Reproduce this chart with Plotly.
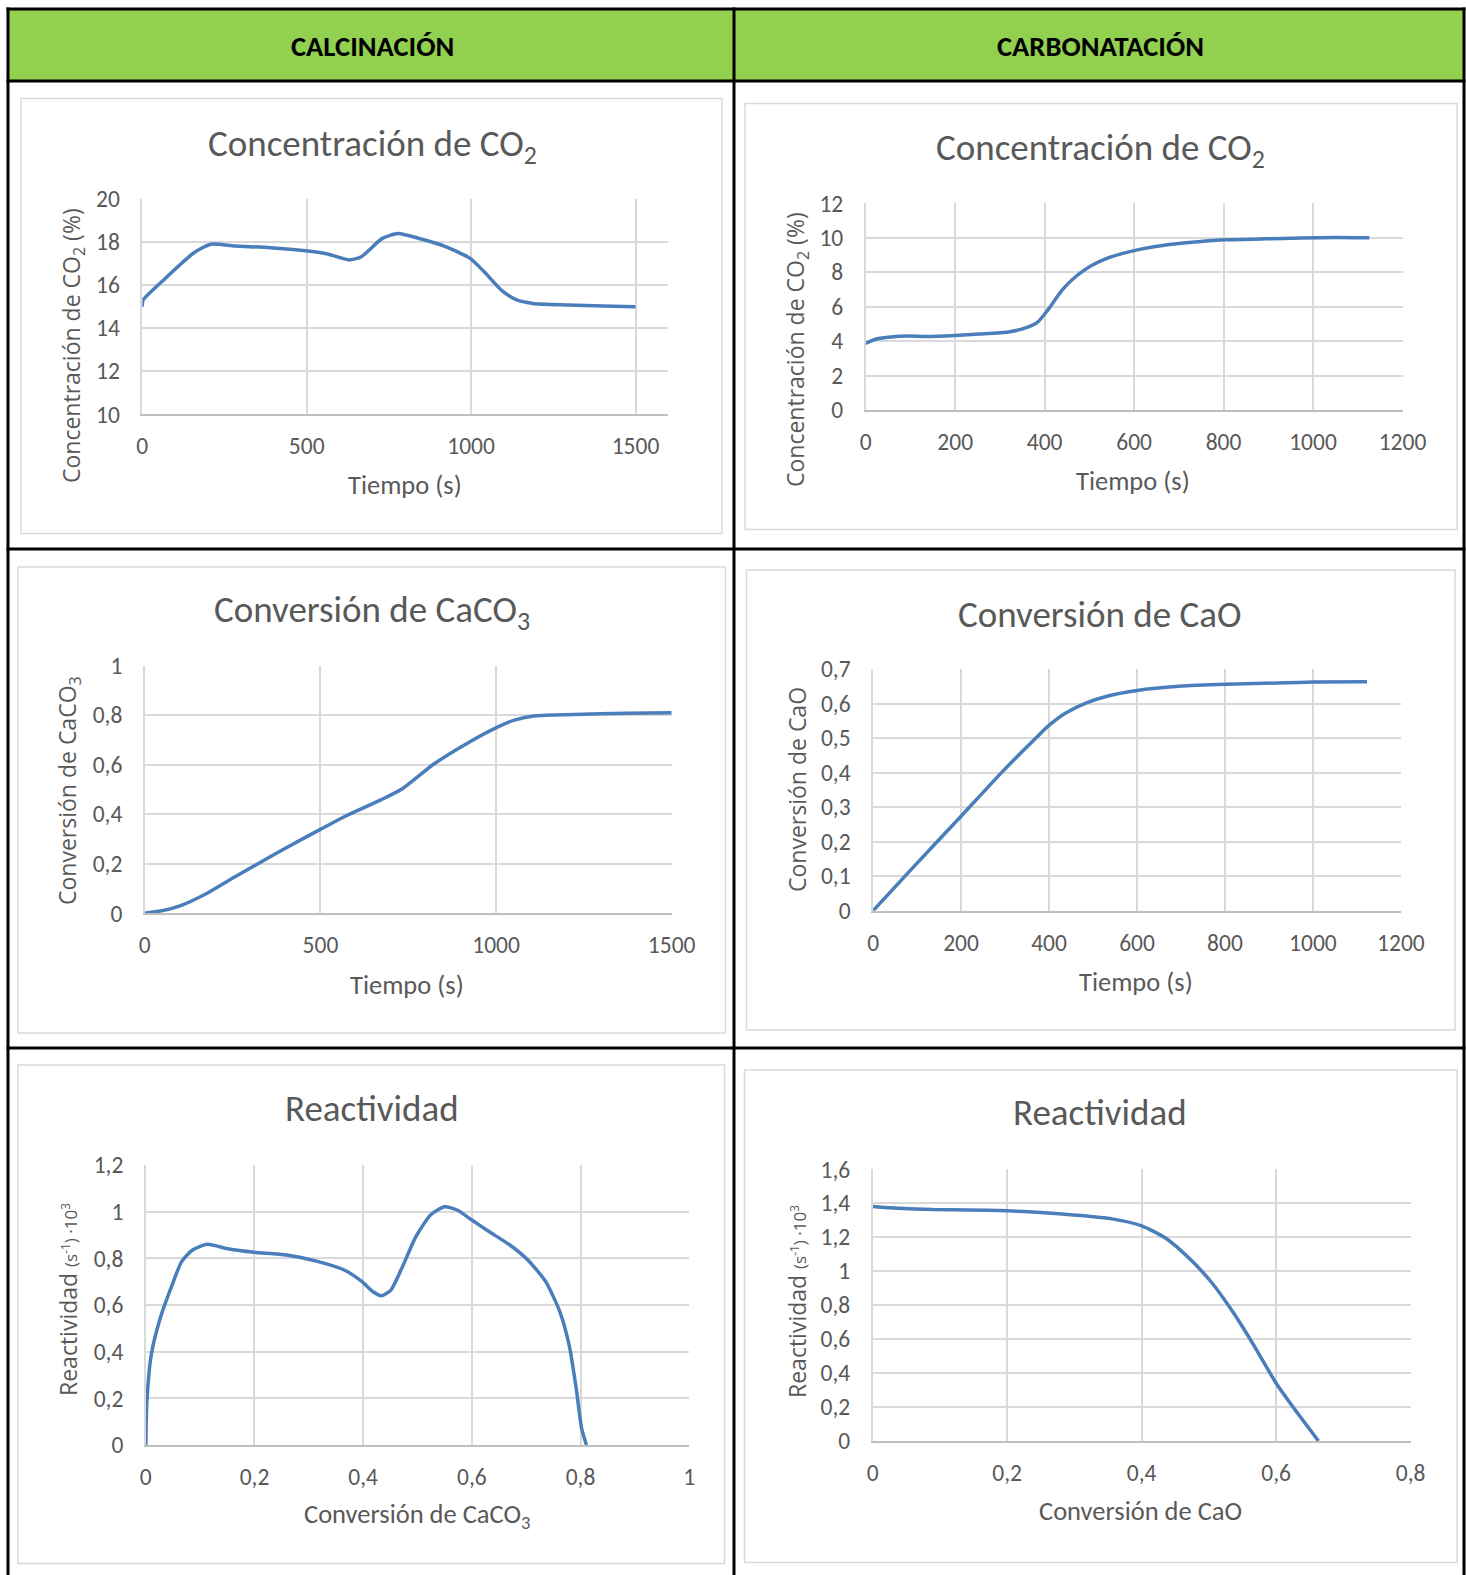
import plotly.graph_objects as go

W, H = 1466, 1575

# ---------------- DATA ----------------
# Calcinación - Concentración de CO2
calc_t = [0, 2, 69, 155, 208, 282, 389, 496, 560, 629, 666, 730, 778, 848, 922, 997, 1039, 1092, 1135, 1188, 1295, 1402, 1500]
calc_co2 = [15.0, 15.3, 16.3, 17.48, 17.9, 17.82, 17.74, 17.6, 17.46, 17.17, 17.32, 18.17, 18.4, 18.14, 17.79, 17.24, 16.63, 15.77, 15.34, 15.15, 15.08, 15.03, 15.0]

# Carbonatación - Concentración de CO2
carb_t = [0, 24, 56, 96, 136, 200, 255, 319, 359, 383, 407, 439, 471, 503, 535, 575, 615, 679, 743, 806, 894, 974, 1054, 1126]
carb_co2 = [3.87, 4.12, 4.24, 4.29, 4.27, 4.33, 4.41, 4.53, 4.78, 5.07, 5.8, 6.96, 7.78, 8.36, 8.76, 9.09, 9.34, 9.61, 9.77, 9.88, 9.94, 9.98, 10.02, 10.0]

# Calcinación - Conversión de CaCO3
calc_t2 = [0, 52, 102, 172, 252, 332, 412, 500, 572, 672, 732, 822, 922, 1001, 1052, 1112, 1222, 1372, 1500]
calc_x = [0, 0.011, 0.031, 0.077, 0.144, 0.208, 0.272, 0.339, 0.393, 0.458, 0.502, 0.602, 0.69, 0.75, 0.78, 0.798, 0.803, 0.808, 0.81]

# Carbonatación - Conversión de CaO
carb_t2 = [0, 91, 201, 292, 373, 401, 437, 485, 534, 600, 695, 801, 936, 1001, 1123]
carb_x = [0, 0.1255, 0.275, 0.4, 0.504, 0.538, 0.572, 0.602, 0.622, 0.638, 0.65, 0.656, 0.66, 0.662, 0.663]

# Calcinación - Reactividad
calc_conv = [0, 0.002, 0.01, 0.0265, 0.046, 0.066, 0.086, 0.113, 0.153, 0.2, 0.259, 0.312, 0.365, 0.398, 0.418, 0.434, 0.451, 0.471, 0.497, 0.524, 0.55, 0.573, 0.6, 0.63, 0.67, 0.703, 0.736, 0.762, 0.779, 0.792, 0.802, 0.809, 0.811]
calc_react = [0, 0.186, 0.386, 0.543, 0.671, 0.786, 0.836, 0.86, 0.84, 0.826, 0.814, 0.789, 0.75, 0.7, 0.657, 0.64, 0.664, 0.757, 0.893, 0.986, 1.021, 1.007, 0.964, 0.917, 0.857, 0.793, 0.7, 0.571, 0.429, 0.243, 0.071, 0.014, 0]

# Carbonatación - Reactividad
carb_conv = [0, 0.037, 0.09, 0.143, 0.2, 0.25, 0.303, 0.356, 0.4, 0.436, 0.473, 0.505, 0.537, 0.568, 0.6, 0.632, 0.663]
carb_react = [1.381, 1.371, 1.363, 1.361, 1.356, 1.346, 1.33, 1.308, 1.267, 1.194, 1.067, 0.929, 0.752, 0.556, 0.34, 0.163, 0]

# Tick values / labels
t1600_vals = [0, 500, 1000, 1500]
t1600_text = ["0", "500", "1000", "1500"]
t1200_vals = [0, 200, 400, 600, 800, 1000, 1200]
t1200_text = ["0", "200", "400", "600", "800", "1000", "1200"]
c1_yvals = [10, 12, 14, 16, 18, 20]
c1_ytext = ["10", "12", "14", "16", "18", "20"]
c2_yvals = [0, 2, 4, 6, 8, 10, 12]
c2_ytext = ["0", "2", "4", "6", "8", "10", "12"]
c3_yvals = [0, 0.2, 0.4, 0.6, 0.8, 1]
c3_ytext = ["0", "0,2", "0,4", "0,6", "0,8", "1"]
c4_yvals = [0, 0.1, 0.2, 0.3, 0.4, 0.5, 0.6, 0.7]
c4_ytext = ["0", "0,1", "0,2", "0,3", "0,4", "0,5", "0,6", "0,7"]
c5_xvals = [0, 0.2, 0.4, 0.6, 0.8, 1]
c5_xtext = ["0", "0,2", "0,4", "0,6", "0,8", "1"]
c5_yvals = [0, 0.2, 0.4, 0.6, 0.8, 1, 1.2]
c5_ytext = ["0", "0,2", "0,4", "0,6", "0,8", "1", "1,2"]
c6_xvals = [0, 0.2, 0.4, 0.6, 0.8]
c6_xtext = ["0", "0,2", "0,4", "0,6", "0,8"]
c6_yvals = [0, 0.2, 0.4, 0.6, 0.8, 1, 1.2, 1.4, 1.6]
c6_ytext = ["0", "0,2", "0,4", "0,6", "0,8", "1", "1,2", "1,4", "1,6"]

# ---------------- STYLE ----------------
NARROW = "Carlito, Calibri, Liberation Sans Narrow, Roboto Condensed, sans-serif"
WIDE = "Open Sans, Segoe UI, Noto Sans, sans-serif"
GRAY = "#595959"
LINE = "#4a7ebb"
GRID = "#d9d9d9"
AXIS = "#bfbfbf"


def px(x):
    return x / W


def py(y):
    return 1 - y / H


fig = go.Figure()

charts = [
    (calc_t, calc_co2, [0, 1600], [10, 20], (142.3, 668.4), (199, 414.3), t1600_vals, t1600_text, c1_yvals, c1_ytext),
    (carb_t, carb_co2, [0, 1200], [0, 12], (865.7, 1402.5), (203.3, 410), t1200_vals, t1200_text, c2_yvals, c2_ytext),
    (calc_t2, calc_x, [0, 1500], [0, 1], (144.8, 671.7), (665.7, 913.3), t1600_vals, t1600_text, c3_yvals, c3_ytext),
    (carb_t2, carb_x, [0, 1200], [0, 0.7], (873.1, 1400.9), (669, 910.7), t1200_vals, t1200_text, c4_yvals, c4_ytext),
    (calc_conv, calc_react, [0, 1], [0, 1.2], (145.8, 689.2), (1165, 1445), c5_xvals, c5_xtext, c5_yvals, c5_ytext),
    (carb_conv, carb_react, [0, 0.8], [0, 1.6], (872.7, 1410.6), (1169.3, 1441), c6_xvals, c6_xtext, c6_yvals, c6_ytext),
]

layout_axes = {}
for i, (xs, ys, xr, yr, xd, yd, xtv, xtt, ytv, ytt) in enumerate(charts, start=1):
    xa = "x" if i == 1 else f"x{i}"
    ya = "y" if i == 1 else f"y{i}"
    fig.add_trace(go.Scatter(x=xs, y=ys, mode="lines", xaxis=xa, yaxis=ya,
                             line=dict(color=LINE, width=3.5, shape="spline", smoothing=0.6),
                             showlegend=False, hoverinfo="skip"))
    tickfont = dict(family=NARROW, size=23.5, color=GRAY)
    layout_axes["xaxis" if i == 1 else f"xaxis{i}"] = dict(
        domain=[px(xd[0]), px(xd[1])], range=xr, anchor=ya, automargin=False,
        tickvals=xtv, ticktext=xtt, tickfont=tickfont,
        showgrid=True, gridcolor=GRID, gridwidth=1.5, zeroline=False,
        showline=True, linecolor=AXIS, linewidth=1.5,
        ticks="outside", ticklen=10, tickcolor="rgba(0,0,0,0)", fixedrange=True)
    layout_axes["yaxis" if i == 1 else f"yaxis{i}"] = dict(
        domain=[py(yd[1]), py(yd[0])], range=yr, anchor=xa, automargin=False,
        tickvals=ytv, ticktext=ytt, tickfont=tickfont,
        showgrid=True, gridcolor=GRID, gridwidth=1.5, zeroline=False,
        showline=True, linecolor=GRID, linewidth=1.5,
        ticks="outside", ticklen=16, tickcolor="rgba(0,0,0,0)", fixedrange=True)

shapes = []
boxes = [(21, 98.5, 722, 533.5), (745, 103.5, 1457, 529.5),
         (18, 567, 725.5, 1033), (746.5, 570, 1455, 1030),
         (18, 1065, 724.5, 1563.5), (744.5, 1070, 1457, 1562.5)]
for (x0, y0, x1, y1) in boxes:
    shapes.append(dict(type="rect", xref="paper", yref="paper", x0=px(x0), x1=px(x1), y0=py(y1), y1=py(y0),
                       line=dict(color=GRID, width=1.5), fillcolor="rgba(0,0,0,0)", layer="below"))
shapes.append(dict(type="rect", xref="paper", yref="paper", x0=px(8), x1=px(1464), y0=py(81), y1=py(9),
                   line=dict(width=0), fillcolor="#92d050", layer="below"))
for yy in [9, 81, 549, 1048]:
    shapes.append(dict(type="line", xref="paper", yref="paper", x0=px(6.5), x1=px(1465.5), y0=py(yy), y1=py(yy),
                       line=dict(color="black", width=3)))
for xx in [8, 734, 1464]:
    shapes.append(dict(type="line", xref="paper", yref="paper", x0=px(xx), x1=px(xx), y0=py(1575), y1=py(7.5),
                       line=dict(color="black", width=3)))

ann = []


def add_text(text, x, y, size, family, color=GRAY, angle=0):
    ann.append(dict(text=text, x=px(x), y=py(y), xref="paper", yref="paper", showarrow=False,
                    xanchor="center", yanchor="middle", textangle=angle,
                    font=dict(size=size, family=family, color=color)))


add_text("<b>CALCINACIÓN</b>", 372, 46, 28.5, NARROW, color="black")
add_text("<b>CARBONATACIÓN</b>", 1100, 46, 28.5, NARROW, color="black")

titles = [("Concentración de CO<sub>2</sub>", 372, 146), ("Concentración de CO<sub>2</sub>", 1100, 150),
          ("Conversión de CaCO<sub>3</sub>", 372, 612), ("Conversión de CaO", 1100, 614),
          ("Reactividad", 372, 1108), ("Reactividad", 1100, 1112)]
for t, x, y in titles:
    add_text(t, x, y, 37, NARROW)

xtitles = [("Tiempo (s)", 405, 485), ("Tiempo (s)", 1133, 481),
           ("Tiempo (s)", 407, 985), ("Tiempo (s)", 1136, 982),
           ("Conversión de CaCO<sub>3</sub>", 417, 1516), ("Conversión de CaO", 1140, 1511)]
for t, x, y in xtitles:
    add_text(t, x, y, 26.5, NARROW)

react_title = "Reactividad <span style='font-size:17px'>(s<sup>-1</sup>) ·10<sup>3</sup></span>"
ytitles = [("Concentración de CO<sub>2</sub> (%)", 72, 346), ("Concentración de CO<sub>2</sub> (%)", 796, 350),
           ("Conversión de CaCO<sub>3</sub>", 68, 791), ("Conversión de CaO", 797, 789),
           (react_title, 68, 1300), (react_title, 797, 1301)]
for t, x, y in ytitles:
    add_text(t, x, y, 23, WIDE, angle=-90)

fig.update_layout(width=W, height=H, margin=dict(l=0, r=0, t=0, b=0, pad=0, autoexpand=False),
                  paper_bgcolor="white", plot_bgcolor="rgba(0,0,0,0)",
                  shapes=shapes, annotations=ann, showlegend=False, **layout_axes)

fig.write_html("out.html", post_script="document.body.style.margin='0';")
